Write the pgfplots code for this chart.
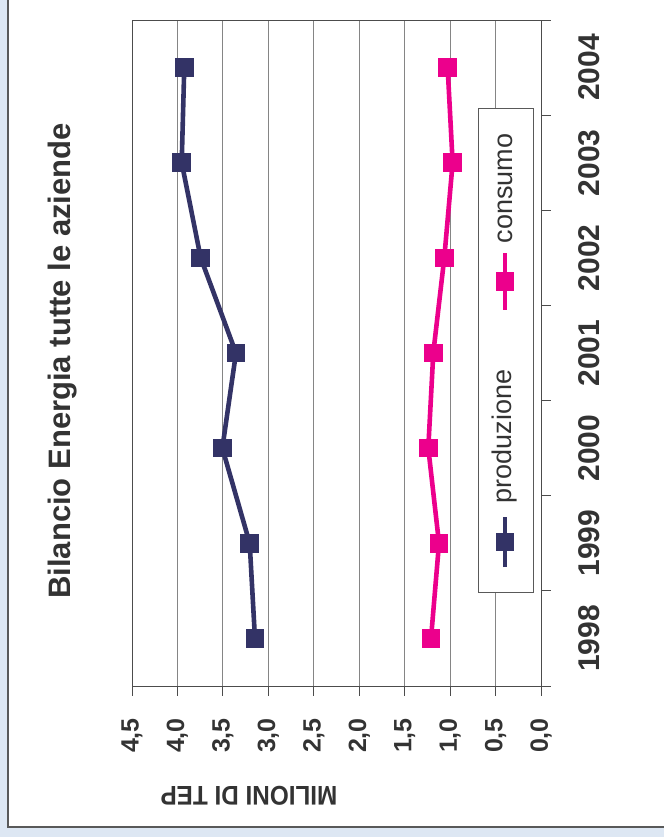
\documentclass[border=0pt]{standalone}
\usepackage{pgfplots}
\pgfplotsset{compat=1.18}
\usepackage{fontspec}
\setmainfont{Liberation Sans}
\definecolor{prod}{HTML}{333366}
\definecolor{cons}{HTML}{EC008C}
\definecolor{bgblue}{HTML}{DDE7F3}
\definecolor{txt}{HTML}{333333}
\definecolor{gridc}{HTML}{858585}
\begin{document}
\begin{tikzpicture}[x=1pt,y=1pt]
\useasboundingbox (0,0) rectangle (664,837);
\fill[bgblue] (0,0) rectangle (664,837);
\fill[white] (8,10) rectangle (664,837);
\draw[color=gray!70!black, line width=1.2pt] (8,837) -- (8,10) -- (664,10);
\begin{axis}[
  at={(132pt,151pt)}, anchor=south west,
  scale only axis, width=409pt, height=666pt,
  xmin=0, xmax=4.5, x dir=reverse,
  ymin=-0.5, ymax=6.5,
  axis line style={draw=gray!60!black, line width=0.9pt},
  xtick={0,0.5,1,1.5,2,2.5,3,3.5,4,4.5},
  xmajorgrids, grid style={gridc, line width=0.8pt},
  tick align=outside, xtick pos=left, ytick pos=right,
  xticklabel pos=left, yticklabel pos=right,
  major tick length=10pt,
  tick style={draw=gray!60!black, line width=0.8pt},
  xticklabel={\pgfmathprintnumber[assume math mode=true,use comma,fixed,fixed zerofill,precision=1]{\tick}},
  xticklabel style={yshift=-22pt, rotate=90, anchor=east, inner sep=0pt, text=txt, font=\bfseries\fontsize{25}{25}\selectfont},
  ytick={-0.5,0.5,1.5,2.5,3.5,4.5,5.5,6.5},
  yticklabels={},
  extra y ticks={0,1,2,3,4,5,6},
  extra y tick labels={1998,1999,2000,2001,2002,2003,2004},
  extra y tick style={major tick length=0pt},
  yticklabel style={xshift=37pt, rotate=90, anchor=north, inner sep=0pt, text=txt, font=\bfseries\fontsize{30}{30}\selectfont},
  clip=false,
]
\addplot[prod, line width=4.6pt, mark=square*, mark size=7pt, mark options={solid}] coordinates {
 (3.147,0) (3.205,1) (3.506,2) (3.356,3) (3.744,4) (3.953,5) (3.925,6)};
\addplot[cons, line width=4.6pt, mark=square*, mark size=7pt, mark options={solid}] coordinates {
 (1.210,0) (1.122,1) (1.240,2) (1.185,3) (1.064,4) (0.972,5) (1.027,6)};
% legend (rotated with the chart)
\draw[gray!70!black, line width=0.8pt, fill=white] (axis cs:0.693,0.488) rectangle (axis cs:0.088,5.576);
\addplot[prod, line width=4.6pt, mark=square*, mark size=7pt, mark repeat=2, mark phase=2, forget plot] coordinates {
 (0.396,0.750) (0.396,1.014) (0.396,1.278)};
\addplot[cons, line width=4.6pt, mark=square*, mark size=7pt, mark repeat=2, mark phase=2, forget plot] coordinates {
 (0.396,3.453) (0.396,3.753) (0.396,4.053)};
\node[rotate=90, anchor=west, inner sep=0pt, text=txt, font=\fontsize{27}{27}\selectfont] at (axis cs:0.396,1.42) {produzione};
\node[rotate=90, anchor=west, inner sep=0pt, text=txt, font=\fontsize{27}{27}\selectfont] at (axis cs:0.396,4.15) {consumo};
\end{axis}
\node[rotate=90, text=txt, font=\bfseries\fontsize{31}{31}\selectfont] at (63,476) {Bilancio Energia tutte le aziende};
\node[rotate=180, xscale=0.9, text=txt, font=\bfseries\fontsize{27}{27}\selectfont] at (249,41) {MILIONI DI TEP};
\end{tikzpicture}
\end{document}
